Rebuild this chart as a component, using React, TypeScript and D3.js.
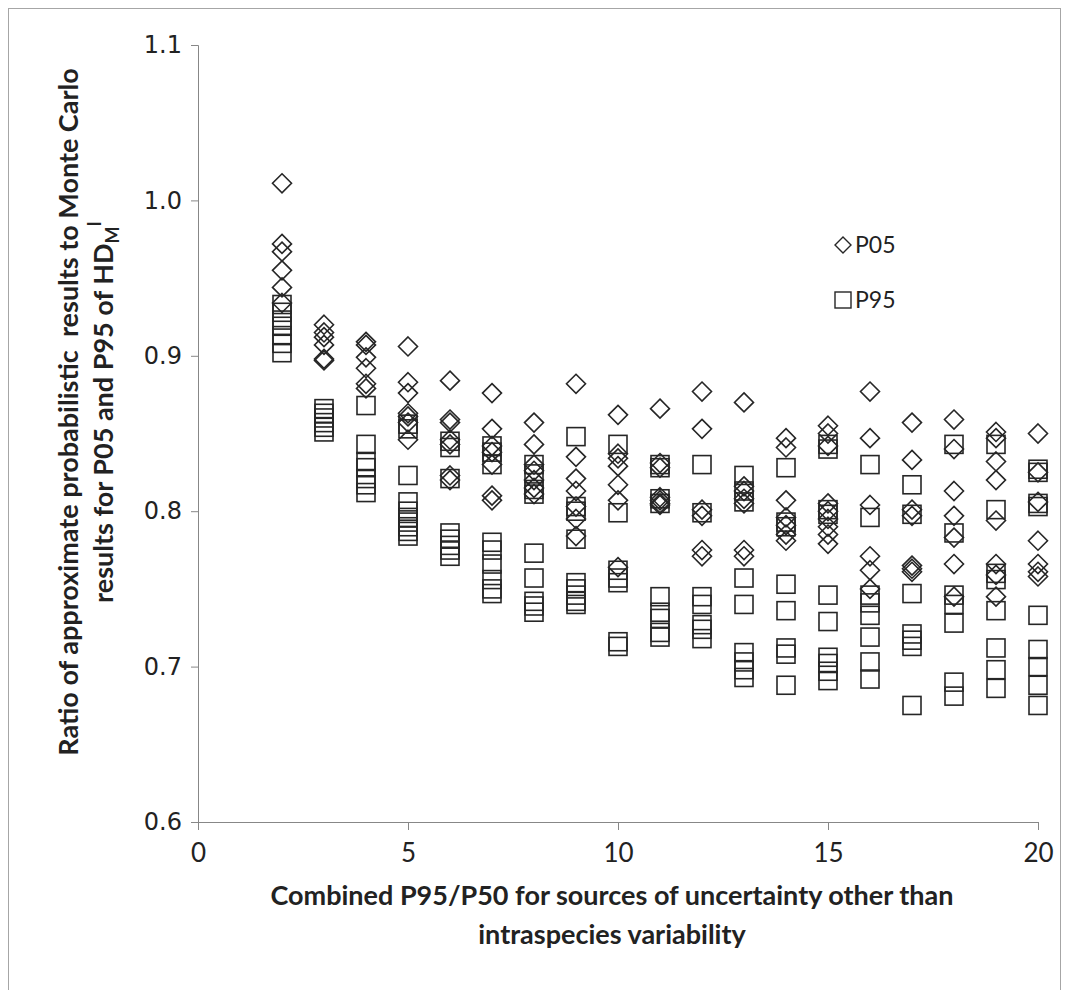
import * as d3 from "d3";
import { useEffect, useRef } from "react";

// chart size and plot area
const width = 1069;
const height = 990;
const marginLeft = 198;
const plotRight = 1038;
const plotTop = 45;
const plotBottom = 822;

// x categories (combined P95/P50)
const xValues = [2, 3, 4, 5, 6, 7, 8, 9, 10, 11, 12, 13, 14, 15, 16, 17, 18, 19, 20];

// P05 ratios, one list per x value
const p05Values = [
  [1.011, 0.972, 0.967, 0.955, 0.944, 0.934],
  [0.92, 0.915, 0.912, 0.907, 0.898, 0.897],
  [0.909, 0.907, 0.899, 0.892, 0.882, 0.879],
  [0.906, 0.883, 0.876, 0.863, 0.861, 0.857, 0.846],
  [0.884, 0.859, 0.857, 0.846, 0.843, 0.823, 0.82],
  [0.876, 0.853, 0.842, 0.838, 0.83, 0.81, 0.807],
  [0.857, 0.843, 0.83, 0.826, 0.82, 0.815, 0.811],
  [0.882, 0.835, 0.821, 0.813, 0.803, 0.795, 0.784],
  [0.862, 0.837, 0.834, 0.829, 0.817, 0.807, 0.764],
  [0.866, 0.831, 0.828, 0.809, 0.807, 0.805, 0.804],
  [0.877, 0.853, 0.801, 0.797, 0.775, 0.771],
  [0.87, 0.816, 0.813, 0.808, 0.805, 0.775, 0.771],
  [0.847, 0.841, 0.807, 0.796, 0.791, 0.785, 0.781],
  [0.855, 0.85, 0.842, 0.805, 0.8, 0.795, 0.79, 0.785, 0.779],
  [0.877, 0.847, 0.804, 0.771, 0.762, 0.75],
  [0.857, 0.833, 0.801, 0.797, 0.765, 0.763, 0.761],
  [0.859, 0.84, 0.813, 0.797, 0.783, 0.766, 0.745],
  [0.851, 0.847, 0.832, 0.82, 0.794, 0.766, 0.759, 0.745],
  [0.85, 0.825, 0.806, 0.781, 0.766, 0.761, 0.758],
];

// P95 ratios, one list per x value
const p95Values = [
  [0.933, 0.928, 0.923, 0.919, 0.913, 0.908, 0.902],
  [0.866, 0.863, 0.86, 0.857, 0.854, 0.851],
  [0.868, 0.843, 0.832, 0.828, 0.821, 0.817, 0.812],
  [0.856, 0.853, 0.823, 0.806, 0.8, 0.796, 0.793, 0.79, 0.787, 0.784],
  [0.845, 0.841, 0.821, 0.786, 0.782, 0.778, 0.775, 0.771],
  [0.842, 0.838, 0.83, 0.78, 0.775, 0.766, 0.756, 0.75, 0.747],
  [0.83, 0.824, 0.814, 0.811, 0.773, 0.757, 0.742, 0.739, 0.735],
  [0.848, 0.803, 0.8, 0.782, 0.754, 0.75, 0.746, 0.742, 0.74],
  [0.843, 0.799, 0.762, 0.757, 0.754, 0.716, 0.713],
  [0.83, 0.828, 0.808, 0.805, 0.745, 0.735, 0.731, 0.722, 0.719],
  [0.83, 0.799, 0.745, 0.74, 0.727, 0.724, 0.718],
  [0.823, 0.813, 0.806, 0.757, 0.74, 0.709, 0.703, 0.698, 0.693],
  [0.828, 0.793, 0.79, 0.753, 0.736, 0.712, 0.708, 0.688],
  [0.843, 0.84, 0.801, 0.798, 0.746, 0.729, 0.706, 0.702, 0.697, 0.691],
  [0.83, 0.796, 0.746, 0.741, 0.733, 0.719, 0.703, 0.692],
  [0.817, 0.798, 0.747, 0.721, 0.717, 0.713, 0.675],
  [0.843, 0.786, 0.746, 0.74, 0.728, 0.69, 0.681],
  [0.843, 0.801, 0.76, 0.756, 0.736, 0.712, 0.698, 0.686],
  [0.827, 0.825, 0.805, 0.803, 0.733, 0.711, 0.7, 0.688, 0.675],
];

const xTicks = [0, 5, 10, 15, 20];
const yTicks = [0.6, 0.7, 0.8, 0.9, 1.0, 1.1];
const legendLabels = ["P05", "P95"];

const axisColor = "#878787";
const markColor = "#262626";
const titleFont = "Lato, 'Open Sans', sans-serif";

const App = () => {
  const containerRef = useRef<HTMLDivElement>(null);

  useEffect(() => {
    const container = containerRef.current;
    if (!container) return;
    container.innerHTML = "";

    const x = d3.scaleLinear().domain([0, 20]).range([marginLeft, plotRight]);
    const y = d3.scaleLinear().domain([0.6, 1.1]).range([plotBottom, plotTop]);

    const svg = d3
      .create("svg")
      .attr("width", width)
      .attr("height", height)
      .style("position", "absolute")
      .style("left", "0px")
      .style("top", "0px")
      .style("background", "#fff");

    // chart frame
    svg
      .append("rect")
      .attr("x", 8.5)
      .attr("y", 8.5)
      .attr("width", 1052)
      .attr("height", 990)
      .attr("fill", "none")
      .attr("stroke", "#a6a6a6");

    // y-axis
    const yAxis = svg
      .append("g")
      .attr("transform", `translate(${marginLeft},0)`)
      .call(
        d3.axisLeft(y).tickValues(yTicks).tickFormat(d3.format(".1f")).tickSize(7).tickPadding(9)
      );
    yAxis.selectAll("path,line").attr("stroke", axisColor);
    yAxis
      .selectAll("text")
      .attr("fill", "#222")
      .style("font-family", "'DejaVu Sans', Verdana, sans-serif")
      .style("font-size", "24px");

    // x-axis
    const xAxis = svg
      .append("g")
      .attr("transform", `translate(0,${plotBottom})`)
      .call(d3.axisBottom(x).tickValues(xTicks).tickFormat(d3.format("d")).tickSize(8).tickPadding(14));
    xAxis.selectAll("path,line").attr("stroke", axisColor);
    xAxis
      .selectAll("text")
      .attr("fill", "#222")
      .style("font-family", titleFont)
      .style("font-size", "26px");

    const diamond = (cx: number, cy: number, r: number) =>
      `M${cx},${cy - r}L${cx + r},${cy}L${cx},${cy + r}L${cx - r},${cy}Z`;

    const points = (vals: number[][]) =>
      xValues.flatMap((xv, i) => vals[i].map((v) => ({ x: xv, v })));

    // P95 squares
    svg
      .append("g")
      .selectAll("rect")
      .data(points(p95Values))
      .join("rect")
      .attr("x", (d) => x(d.x) - 9)
      .attr("y", (d) => y(d.v) - 9)
      .attr("width", 18)
      .attr("height", 18)
      .attr("fill", "none")
      .attr("stroke", markColor)
      .attr("stroke-width", 1.6);

    // P05 diamonds
    svg
      .append("g")
      .selectAll("path")
      .data(points(p05Values))
      .join("path")
      .attr("d", (d) => diamond(x(d.x), y(d.v), 9.5))
      .attr("fill", "none")
      .attr("stroke", markColor)
      .attr("stroke-width", 1.6);

    // legend
    const legend = svg.append("g").attr("transform", "translate(843,0)");
    legend
      .append("path")
      .attr("d", diamond(0, 245, 8))
      .attr("fill", "none")
      .attr("stroke", markColor)
      .attr("stroke-width", 1.4);
    legend
      .append("rect")
      .attr("x", -8)
      .attr("y", 292)
      .attr("width", 16)
      .attr("height", 16)
      .attr("fill", "none")
      .attr("stroke", markColor)
      .attr("stroke-width", 1.4);
    legend
      .selectAll("text")
      .data(legendLabels)
      .join("text")
      .attr("x", 12)
      .attr("y", (d, i) => 253 + i * 55)
      .attr("fill", "#222")
      .style("font-family", titleFont)
      .style("font-size", "23px")
      .text((d) => d);

    // x-axis title
    const xTitle = svg
      .append("text")
      .attr("text-anchor", "middle")
      .attr("fill", "#222")
      .style("font-family", titleFont)
      .style("font-weight", "bold")
      .style("font-size", "27px");
    xTitle.append("tspan").attr("x", 612).attr("y", 905).text("Combined P95/P50 for sources of uncertainty other than");
    xTitle.append("tspan").attr("x", 612).attr("y", 944).text("intraspecies variability");

    // y-axis title
    const yTitle = svg
      .append("text")
      .attr("transform", "translate(0,412) rotate(-90)")
      .attr("text-anchor", "middle")
      .attr("fill", "#222")
      .style("font-family", titleFont)
      .style("font-weight", "bold")
      .style("font-size", "27px");
    yTitle
      .append("tspan")
      .attr("x", 0)
      .attr("y", 78)
      .attr("xml:space", "preserve")
      .text("Ratio of approximate probabilistic  results to Monte Carlo");
    const line2 = yTitle.append("tspan").attr("x", 0).attr("y", 113);
    line2.append("tspan").text("results for P05 and P95 of HD");
    line2.append("tspan").attr("dy", 6).style("font-size", "18px").text("M");
    line2.append("tspan").attr("dy", -18).style("font-size", "18px").text("I");

    container.append(svg.node() as SVGSVGElement);
  }, []);

  return <div ref={containerRef}></div>;
};

export default App;
